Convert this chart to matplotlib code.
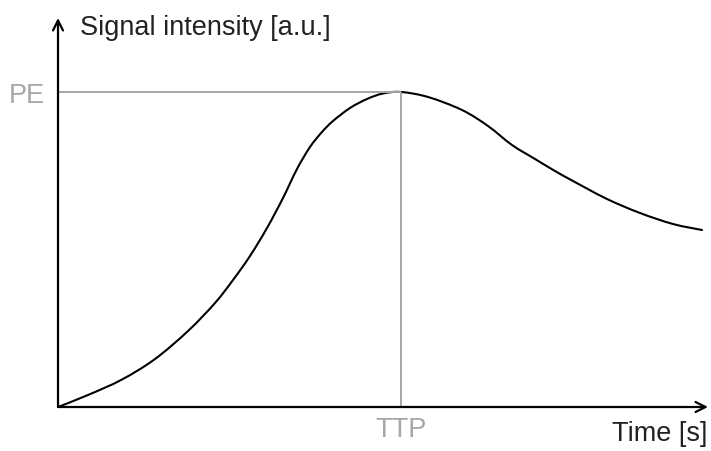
import matplotlib.pyplot as plt
from matplotlib.path import Path
from matplotlib.patches import PathPatch

# time-intensity curve, arbitrary units
time = [0, 30, 64, 97, 130, 157, 175, 192, 209, 225, 239, 252, 264, 275, 292,
        309, 325, 343, 370, 404, 430, 454, 477, 497, 515, 549, 582, 615, 644]
signal = [0, 12, 27.5, 48, 76, 104, 127, 151, 179, 209, 238, 260, 275, 286, 299,
          308, 313.5, 315, 310, 297, 281, 262, 248, 236, 226, 208, 194, 183, 177]

ttp = 343   # time to peak
pe = 315    # peak enhancement


def smooth_path(xs, ys):
    # Catmull-Rom through the points, written as cubic bezier segments
    pts = list(zip(xs, ys))
    verts = [pts[0]]
    codes = [Path.MOVETO]
    for i in range(len(pts) - 1):
        p0 = pts[i - 1] if i > 0 else pts[i]
        p1 = pts[i]
        p2 = pts[i + 1]
        p3 = pts[i + 2] if i + 2 < len(pts) else pts[i + 1]
        c1 = (p1[0] + (p2[0] - p0[0]) / 6, p1[1] + (p2[1] - p0[1]) / 6)
        c2 = (p2[0] - (p3[0] - p1[0]) / 6, p2[1] - (p3[1] - p1[1]) / 6)
        verts += [c1, c2, p2]
        codes += [Path.CURVE4] * 3
    return Path(verts, codes)


fig = plt.figure(figsize=(7.11, 4.51), dpi=100)
ax = fig.add_axes([58 / 711, 44 / 451, 653 / 711, 407 / 451])
ax.set_xlim(0, 653)
ax.set_ylim(0, 407)
ax.axis('off')

gray = '#a6a6a6'
fs = 19.5
font = 'Liberation Sans'

# peak markers
ax.plot([0, ttp], [pe, pe], color=gray, lw=1.4, solid_capstyle='butt')
ax.plot([ttp, ttp], [0, pe], color=gray, lw=1.4, solid_capstyle='butt')

ax.add_patch(PathPatch(smooth_path(time, signal), facecolor='none',
                       edgecolor='black', lw=1.5, capstyle='round'))

# axes with open arrow heads
arrow = dict(arrowstyle='->', color='black', lw=1.6, mutation_scale=18,
             shrinkA=0, shrinkB=0)
ax.annotate('', xy=(0, 389), xytext=(0, 0), arrowprops=arrow, annotation_clip=False)
ax.annotate('', xy=(650, 0), xytext=(0, 0), arrowprops=arrow, annotation_clip=False)

ax.text(22, 372, 'Signal intensity [a.u.]', fontsize=fs, family=font,
        color='#222222', va='baseline', ha='left')
ax.text(649, -34, 'Time [s]', fontsize=fs, family=font,
        color='#222222', va='baseline', ha='right')
ax.text(ttp, -30, 'TTP', fontsize=fs, family=font,
        color=gray, va='baseline', ha='center')
ax.text(-13, 304, 'PE', fontsize=fs, family=font,
        color=gray, va='baseline', ha='right')

fig.savefig('out.png', dpi=100)
